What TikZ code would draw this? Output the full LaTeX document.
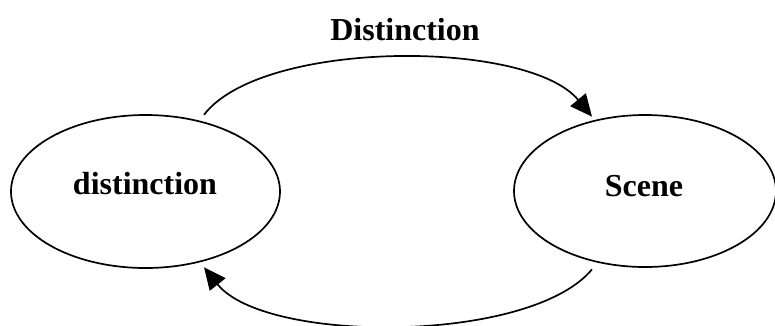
\documentclass[tikz,border=0pt]{standalone}
\usepackage{fontspec}
\setmainfont{Liberation Serif}
\usetikzlibrary{shapes.geometric,arrows.meta}
\begin{document}
\begin{tikzpicture}[x=1pt,y=-1pt,
  state/.style={draw,ellipse,line width=1.7pt,inner sep=0pt},
  lbl/.style={font=\fontsize{32}{36}\selectfont\bfseries},
  link/.style={line width=1.7pt,-{Triangle[length=22pt,width=20pt]}}]
\useasboundingbox (0,0) rectangle (775,325);
\node[state,minimum width=269pt,minimum height=153pt] (L) at (145.5,191.5) {};
\node[lbl] (Lt) at (145,184) {distinction};
\node[state,minimum width=262pt,minimum height=152pt] (R) at (645,191) {};
\node[lbl] (Rt) at (644,186) {Scene};
\node[lbl] (lab) at (405,30) {Distinction};
\draw[link] ([yshift=7pt]L.50) .. controls (262,39) and (528,39) .. ([yshift=4pt]R.127);
\draw[link] ([yshift=-8pt]R.-127) .. controls (530,344) and (265,344) .. ([yshift=-6pt]L.-50);
\end{tikzpicture}
\end{document}
